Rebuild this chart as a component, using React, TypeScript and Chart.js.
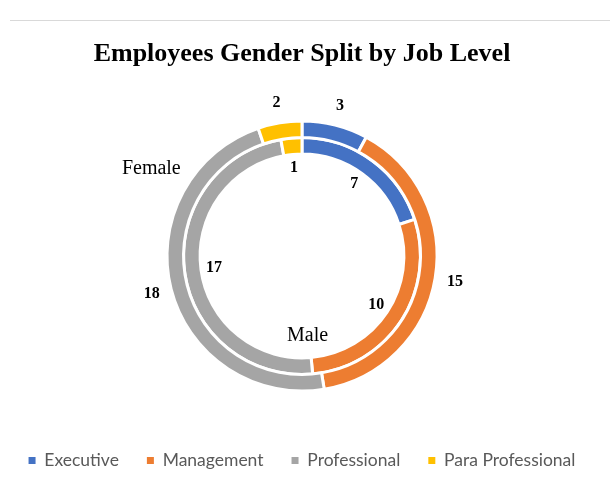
import React, { useEffect, useRef } from "react";
import { Chart, registerables } from "chart.js";

Chart.register(...registerables);

const categories = ["Executive", "Management", "Professional", "Para Professional"];
const femaleValues = [3, 15, 18, 2];
const maleValues = [7, 10, 17, 1];
const seriesNames = ["Female", "Male"];
const colors = ["#4472C4", "#ED7D31", "#A5A5A5", "#FFC000"];
const titleText = "Employees Gender Split by Job Level";

// where each series-name label sits: angle clockwise from top (deg), offset from ring edge (px)
const seriesNameSpots = [
  { angle: 300, edge: "outer", offset: 39 },
  { angle: 176, edge: "inner", offset: -22 },
];

const ringLabelPlugin = {
  id: "ringLabels",
  afterDatasetsDraw(chart: any) {
    const ctx = chart.ctx;
    ctx.save();
    ctx.textAlign = "center";
    ctx.textBaseline = "middle";
    ctx.fillStyle = "#000000";
    chart.data.datasets.forEach((ds: any, di: number) => {
      const meta = chart.getDatasetMeta(di);
      let cx = 0, cy = 0, outerR = 0, innerR = 0;
      meta.data.forEach((arc: any, i: number) => {
        const p = arc.getProps(["x", "y", "startAngle", "endAngle", "outerRadius", "innerRadius"], true);
        cx = p.x; cy = p.y; outerR = p.outerRadius; innerR = p.innerRadius;
        const mid = (p.startAngle + p.endAngle) / 2;
        const r = di === 0 ? p.outerRadius + 20 : p.innerRadius - 13;
        ctx.font = "bold 16px 'Liberation Serif'";
        ctx.fillText(String(ds.data[i]), cx + r * Math.cos(mid), cy + r * Math.sin(mid));
      });
      const spot = seriesNameSpots[di];
      if (spot) {
        const a = (spot.angle * Math.PI) / 180 - Math.PI / 2;
        const r = (spot.edge === "outer" ? outerR : innerR) + spot.offset;
        ctx.font = "20px 'Liberation Serif'";
        ctx.fillText(ds.label, cx + r * Math.cos(a), cy + r * Math.sin(a));
      }
    });
    ctx.restore();
  },
};

export default function App() {
  const canvasRef = useRef<HTMLCanvasElement | null>(null);

  useEffect(() => {
    if (!canvasRef.current) return;
    const chart = new Chart(canvasRef.current, {
      type: "doughnut",
      data: {
        labels: categories,
        datasets: [
          {
            label: seriesNames[0],
            data: femaleValues,
            backgroundColor: colors,
            borderColor: "#ffffff",
            borderWidth: 3,
          },
          {
            label: seriesNames[1],
            data: maleValues,
            backgroundColor: colors,
            borderColor: "#ffffff",
            borderWidth: 3,
          },
        ],
      },
      options: {
        responsive: false,
        animation: false,
        radius: 135,
        cutout: "75.5%",
        layout: { padding: { left: 0, right: 6, top: 0, bottom: 9.75 } },
        plugins: {
          title: {
            display: true,
            text: titleText,
            color: "#000000",
            font: { family: "'Liberation Serif'", size: 26, weight: "bold" },
            padding: { top: 38.4, bottom: 18.65 },
          },
          legend: {
            position: "bottom",
            labels: {
              color: "#595959",
              font: { family: "Lato", size: 17.5 },
              boxWidth: 7,
              boxHeight: 7,
              padding: 28,
              generateLabels: (c: any) => {
                const base = (Chart as any).overrides.doughnut.plugins.legend.labels.generateLabels(c);
                return base.map((item: any) => ({ ...item, lineWidth: 0, strokeStyle: "transparent" }));
              },
            },
          },
          tooltip: { enabled: false },
        },
      },
      plugins: [ringLabelPlugin],
    } as any);
    return () => chart.destroy();
  }, []);

  return (
    <div style={{ position: "fixed", left: 0, top: 0, width: 610, height: 489, background: "#ffffff" }}>
      <div style={{ position: "absolute", left: 10, top: 20, width: 600, height: 1, background: "#d9d9d9" }} />
      <canvas ref={canvasRef} width={610} height={489} style={{ display: "block", position: "absolute", left: 0, top: 0 }} />
    </div>
  );
}
